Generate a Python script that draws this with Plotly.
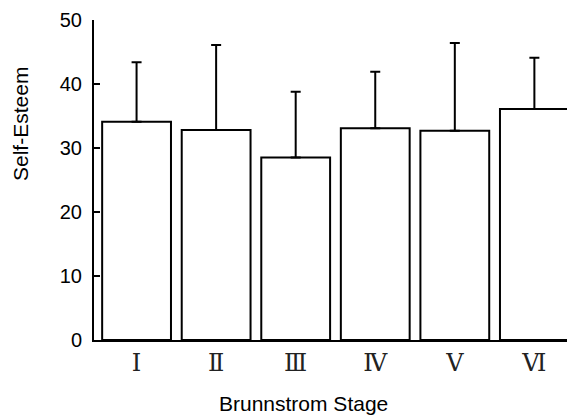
import plotly.graph_objects as go

stages = ["Ⅰ", "Ⅱ", "Ⅲ", "Ⅳ", "Ⅴ", "Ⅵ"]
mean_self_esteem = [34.1, 32.8, 28.5, 33.1, 32.7, 36.1]
sd_self_esteem = [9.3, 13.3, 10.3, 8.8, 13.7, 8.0]
y_ticks = [0, 10, 20, 30, 40, 50]

fig = go.Figure()
fig.add_trace(go.Bar(
    x=stages,
    y=mean_self_esteem,
    width=0.865,
    marker=dict(color="white", line=dict(color="black", width=2)),
    error_y=dict(
        type="data",
        symmetric=False,
        array=sd_self_esteem,
        arrayminus=[0] * len(sd_self_esteem),
        color="black",
        thickness=2,
        width=5,
    ),
))

fig.update_layout(
    width=567,
    height=416,
    margin=dict(l=94, r=0, t=20, b=76),
    plot_bgcolor="white",
    paper_bgcolor="white",
    showlegend=False,
    font=dict(family="Liberation Sans, Arial, sans-serif", color="black"),
)

fig.update_xaxes(
    type="category",
    range=[-0.535, 5.41],
    showline=True,
    linecolor="black",
    linewidth=2,
    ticks="",
    showgrid=False,
    zeroline=False,
    tickfont=dict(family="Liberation Serif, DejaVu Serif, serif", size=24, color="#222"),
    ticklabelstandoff=0,
)
fig.update_yaxes(
    range=[0, 50],
    tickvals=y_ticks,
    showline=True,
    linecolor="black",
    linewidth=2,
    ticks="inside",
    ticklen=6,
    tickwidth=2,
    tickcolor="black",
    showgrid=False,
    zeroline=False,
    tickfont=dict(size=20, color="black"),
    ticklabelstandoff=6,
)

fig.add_annotation(
    text="Self-Esteem", textangle=-90,
    xref="paper", yref="paper",
    x=(21 - 94) / 473, y=(340 - 124) / 320,
    xanchor="center", yanchor="middle",
    showarrow=False, font=dict(size=21, color="black"),
)
fig.add_annotation(
    text="Brunnstrom Stage",
    xref="paper", yref="paper",
    x=(303 - 94) / 473, y=-(403 - 340) / 320,
    xanchor="center", yanchor="middle",
    showarrow=False, font=dict(size=21, color="black"),
)

fig.write_html("out.html")
